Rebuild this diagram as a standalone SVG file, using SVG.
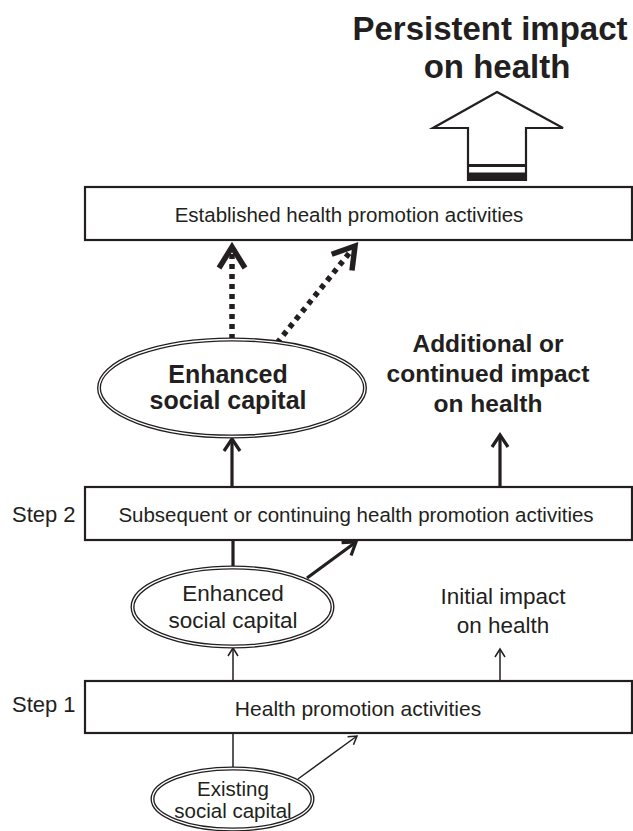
<svg xmlns="http://www.w3.org/2000/svg" width="633" height="831" viewBox="0 0 633 831">
<style>
  text { font-family: "Liberation Sans", Arial, Helvetica, sans-serif; fill: #231f20; }
  .box { fill: #fff; stroke: #231f20; stroke-width: 2.2; }
  .lbl { font-size: 20.5px; text-anchor: middle; }
  .step { font-size: 22px; }
  .bold { font-weight: bold; text-anchor: middle; }
  .ell-o { fill: #fff; stroke: #231f20; stroke-width: 4; }
  .ell-i { fill: none; stroke: #fff; stroke-width: 1.3; }
  .thin { stroke: #231f20; stroke-width: 1.5; fill: none; }
  .med { stroke: #231f20; stroke-width: 3.2; fill: none; }
  .dot { stroke: #231f20; stroke-width: 5.5; fill: none; stroke-dasharray: 5 5; }
</style>
<defs>
  <marker id="ahThin" markerUnits="userSpaceOnUse" viewBox="-10 -7 12 14" refX="0" refY="0" markerWidth="12" markerHeight="14" orient="auto" overflow="visible">
    <path d="M -8,-5 L 0,0 L -8,5" fill="none" stroke="#231f20" stroke-width="1.5"/>
  </marker>
  <marker id="ahMed" markerUnits="userSpaceOnUse" viewBox="-14 -10 16 20" refX="0" refY="0" markerWidth="16" markerHeight="20" orient="auto" overflow="visible">
    <path d="M -12,-8 L 0,0 L -12,8" fill="none" stroke="#231f20" stroke-width="3.2"/>
  </marker>
  <marker id="ahThick" markerUnits="userSpaceOnUse" viewBox="-26 -16 28 32" refX="0" refY="0" markerWidth="28" markerHeight="32" orient="auto" overflow="visible">
    <path d="M -21,-13 L 0,0 L -21,13" fill="none" stroke="#231f20" stroke-width="5.5"/>
  </marker>
</defs>

<g id="title">
  <text class="bold" x="490" y="40" font-size="33">Persistent impact</text>
  <text class="bold" x="497" y="78" font-size="33">on health</text>
</g>

<g id="big-arrow">
  <path d="M 497,92 L 563,128 L 526,128 L 526,180 L 468,180 L 468,128 L 433,128 Z" fill="#fff" stroke="#231f20" stroke-width="2.2" stroke-linejoin="miter"/>
  <rect x="468" y="164" width="58" height="3" fill="#231f20"/>
  <rect x="468" y="172.5" width="58" height="7.5" fill="#231f20"/>
</g>

<g id="connectors">
  <line class="dot" x1="232" y1="339" x2="232" y2="247" marker-end="url(#ahThick)"/>
  <line class="dot" x1="277" y1="343" x2="355" y2="246" marker-end="url(#ahThick)"/>
  <line class="med" x1="232" y1="487" x2="232" y2="439" marker-end="url(#ahMed)"/>
  <line class="med" x1="500" y1="487" x2="500" y2="435" marker-end="url(#ahMed)"/>
  <line class="med" x1="233" y1="567" x2="233" y2="540"/>
  <line class="med" x1="307" y1="578" x2="356" y2="542" marker-end="url(#ahMed)"/>
  <line class="thin" x1="233" y1="681" x2="233" y2="648" marker-end="url(#ahThin)"/>
  <line class="thin" x1="500" y1="681" x2="500" y2="649" marker-end="url(#ahThin)"/>
  <line class="thin" x1="233" y1="768" x2="233" y2="733"/>
  <line class="thin" x1="298" y1="779" x2="357" y2="736" marker-end="url(#ahThin)"/>
</g>

<g id="established">
  <rect class="box" x="85" y="187" width="547" height="53"/>
  <text class="lbl" x="349" y="222">Established health promotion activities</text>
</g>

<g id="enhanced-bold">
  <ellipse class="ell-o" cx="232" cy="388" rx="133" ry="48.5"/>
  <ellipse class="ell-i" cx="232" cy="388" rx="133" ry="48.5"/>
  <text class="bold" x="228" y="383" font-size="25">Enhanced</text>
  <text class="bold" x="228" y="409" font-size="25">social capital</text>
</g>

<g id="additional-impact">
  <text class="bold" x="488" y="352" font-size="24.5">Additional or</text>
  <text class="bold" x="488" y="382" font-size="24.5">continued impact</text>
  <text class="bold" x="488" y="412" font-size="24.5">on health</text>
</g>

<g id="step2">
  <text class="step" x="12" y="522">Step 2</text>
  <rect class="box" x="85" y="487" width="547" height="53"/>
  <text class="lbl" x="356" y="522">Subsequent or continuing health promotion activities</text>
</g>

<g id="enhanced">
  <ellipse class="ell-o" cx="232.5" cy="607" rx="100" ry="39.5"/>
  <ellipse class="ell-i" cx="232.5" cy="607" rx="100" ry="39.5"/>
  <text x="233" y="601" font-size="22.5" text-anchor="middle">Enhanced</text>
  <text x="233" y="628" font-size="22.5" text-anchor="middle">social capital</text>
</g>

<g id="initial-impact">
  <text x="503" y="604" font-size="22.5" text-anchor="middle">Initial impact</text>
  <text x="503" y="633" font-size="22.5" text-anchor="middle">on health</text>
</g>

<g id="step1">
  <text class="step" x="12" y="712">Step 1</text>
  <rect class="box" x="85" y="681" width="547" height="52"/>
  <text x="358" y="716" font-size="21" text-anchor="middle">Health promotion activities</text>
</g>

<g id="existing">
  <ellipse class="ell-o" cx="232.5" cy="799" rx="80" ry="30.5"/>
  <ellipse class="ell-i" cx="232.5" cy="799" rx="80" ry="30.5"/>
  <text x="233" y="796" font-size="20.5" text-anchor="middle">Existing</text>
  <text x="233" y="818" font-size="20.5" text-anchor="middle">social capital</text>
</g>
</svg>
